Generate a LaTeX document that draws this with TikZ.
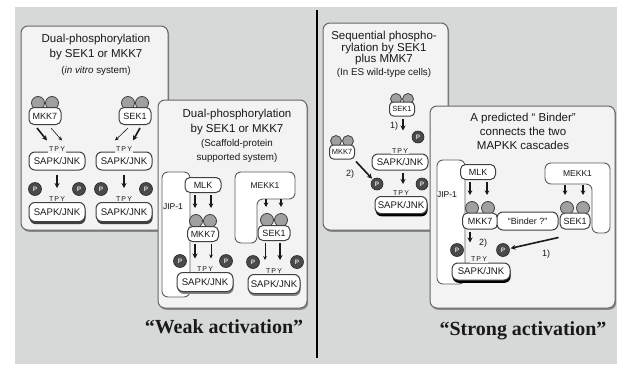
\documentclass[tikz,border=0pt]{standalone}
\usepackage{fontspec}
\setmainfont{Liberation Sans}
\newfontfamily\serifbold{Liberation Serif}
\usetikzlibrary{arrows.meta,calc,shadows}
\definecolor{bggray}{HTML}{D7D9D9}
\definecolor{panelfill}{HTML}{F3F3F3}
\definecolor{panelline}{HTML}{666666}
\definecolor{panelshadow}{HTML}{8A8A8A}
\definecolor{nodeline}{HTML}{404040}
\definecolor{earfill}{HTML}{A0A0A0}
\definecolor{pfill}{HTML}{4A4A4A}
\tikzset{
 panel/.style={rounded corners=7pt, fill=panelfill, draw=panelline, line width=1pt,
   drop shadow={shadow xshift=1.2pt, shadow yshift=-1.8pt, fill=panelshadow, opacity=1}},
 ttl/.style={font=\fontsize{11.5}{13}\selectfont, inner sep=0pt, anchor=base},
 ttls/.style={font=\fontsize{9.8}{11}\selectfont, inner sep=0pt, anchor=base},
 kinbox/.style={draw=nodeline, fill=white, rounded corners=5pt, line width=1pt,
   minimum width=32pt, minimum height=17pt, inner sep=1pt, font=\fontsize{9}{9}\selectfont},
 kinsmall/.style={minimum width=25pt, minimum height=14pt, rounded corners=4pt, font=\fontsize{7.5}{8}\selectfont},
 ear/.style={circle, draw=nodeline, fill=earfill, line width=0.8pt, inner sep=0pt},
 sapk/.style={draw=nodeline, fill=white, rounded corners=6pt, line width=1pt,
   minimum width=56pt, minimum height=18pt, inner sep=1pt, font=\fontsize{9.6}{10}\selectfont},
 actdark/.style={drop shadow={shadow xshift=0.6pt, shadow yshift=-2.6pt, fill=black!75, opacity=1}},
 actmid/.style={drop shadow={shadow xshift=0.6pt, shadow yshift=-2.4pt, fill=black!50, opacity=1}},
 actblack/.style={drop shadow={shadow xshift=0.6pt, shadow yshift=-2.8pt, fill=black, opacity=1}},
 pcirc/.style={circle, fill=pfill, draw=black!85, line width=0.6pt, minimum size=13pt,
   inner sep=0pt, font=\fontsize{6.5}{6.5}\selectfont\bfseries, text=black!12},
 tpy/.style={fill=panelfill, inner sep=0.6pt, font=\fontsize{7}{7}\selectfont},
 boldarr/.style={line width=1.6pt, -{Stealth[length=5pt,width=5pt]}},
 medarr/.style={line width=1.1pt, -{Stealth[length=4.5pt,width=4.5pt]}},
 thinarr/.style={line width=0.6pt, -{Stealth[length=4pt,width=3.6pt]}},
 scaf/.style={draw=nodeline!85, fill=white, rounded corners=6pt, line width=0.9pt},
 lbl/.style={inner sep=0pt, font=\fontsize{8.5}{9}\selectfont},
 numlbl/.style={inner sep=0pt, font=\fontsize{9}{9}\selectfont},
 big/.style={font=\serifbold\bfseries\fontsize{20}{22}\selectfont, inner sep=0pt}
}
% name, x, y, label, ear dx, ear dy, ear size, extra box style
\newcommand{\kinase}[8]{%
  \node[ear, minimum size=#7] (#1e1) at ($(#2,#3)+(-#5,-#6)$) {};
  \node[ear, minimum size=#7] (#1e2) at ($(#2,#3)+(#5,-#6)$) {};
  \node[kinbox, #8] (#1) at (#2,#3) {#4};}
\begin{document}
\begin{tikzpicture}[x=1pt,y=-1pt, color=black!90]
\useasboundingbox (0,0) rectangle (617,364);
\fill[bggray] (15,7) rectangle (617,364);
\draw[line width=1.8pt, black] (317,10) -- (317,358);

% ---------- Box 1: in vitro ----------
\path[panel] (21,26) rectangle (168,230);
\node[ttl] (b1t1) at (96,42) {Dual-phosphorylation};
\node[ttl] (b1t2) at (96,57) {by SEK1 or MKK7};
\node[ttls] (b1t3) at (96,73) {(\textit{in vitro} system)};
\kinase{b1m}{45}{116}{MKK7}{7}{13}{13pt}{}
\kinase{b1s}{135}{116}{SEK1}{7}{13}{13pt}{}
\node[sapk] (b1u1) at (57,161) {SAPK/JNK};
\node[sapk] (b1u2) at (124,161) {SAPK/JNK};
\node[tpy] (b1y1) at ([yshift=2pt]b1u1.north) {T\,P\,Y};
\node[tpy] (b1y2) at ([yshift=2pt]b1u2.north) {T\,P\,Y};
\draw[boldarr] ([xshift=-8pt,yshift=-3pt]b1m.south) -- ([xshift=-10pt,yshift=11pt]b1u1.north);
\draw[thinarr] ([xshift=6pt,yshift=-3pt]b1m.south) -- ([xshift=5pt,yshift=11pt]b1u1.north);
\draw[thinarr] ([xshift=-7pt,yshift=-3pt]b1s.south) -- ([xshift=-9pt,yshift=11pt]b1u2.north);
\draw[boldarr] ([xshift=5pt,yshift=-3pt]b1s.south) -- ([xshift=9pt,yshift=11pt]b1u2.north);
\node[sapk, actdark, minimum height=19pt] (b1a1) at (57,212) {SAPK/JNK};
\node[sapk, actdark, minimum height=19pt] (b1a2) at (124,212) {SAPK/JNK};
\node[tpy] (b1y3) at ([yshift=3pt]b1a1.north) {T\,P\,Y};
\node[tpy] (b1y4) at ([yshift=3pt]b1a2.north) {T\,P\,Y};
\node[pcirc] (b1p1) at (35,189) {P};
\node[pcirc] (b1p2) at (79,189) {P};
\node[pcirc] (b1p3) at (101,189) {P};
\node[pcirc] (b1p4) at (146,189) {P};
\draw[boldarr] ([yshift=-4pt]b1u1.south) -- ([yshift=14pt]b1a1.north);
\draw[boldarr] ([yshift=-4pt]b1u2.south) -- ([yshift=14pt]b1a2.north);

% ---------- Box 2: scaffold ----------
\path[panel] (158,100) rectangle (307,308);
\node[ttl] (b2t1) at (237,117) {Dual-phosphorylation};
\node[ttl] (b2t2) at (237,132) {by SEK1 or MKK7};
\node[ttls] (b2t3) at (237,146.5) {(Scaffold-protein};
\node[ttls] (b2t4) at (237,160.5) {supported system)};
\node[scaf, minimum width=28pt, minimum height=125pt] (b2jip) at (176,234.5) {};
\draw[scaf] (235,172) -- (295,172) -- (295,199) -- (257,199) -- (257,243) -- (235,243) -- cycle;
\node[lbl, minimum width=60pt, minimum height=27pt] (b2mk) at (265,185.5) {MEKK1};
\node[lbl, fill=panelfill, inner sep=0.5pt] (b2jl) at (173,207) {JIP-1};
\node[kinbox, minimum width=36pt, minimum height=15pt] (b2mlk) at (203,185) {MLK};
\kinase{b2m}{203}{234}{MKK7}{7}{13}{13pt}{minimum width=31pt, minimum height=15pt}
\kinase{b2s}{274}{233}{SEK1}{7}{13}{13pt}{minimum width=32pt, minimum height=15pt}
\draw[medarr] ([xshift=-8pt,yshift=-2pt]b2mlk.south) -- ([xshift=-8pt,yshift=18pt]b2m.north);
\draw[medarr] ([xshift=8pt,yshift=-2pt]b2mlk.south) -- ([xshift=8pt,yshift=18pt]b2m.north);
\draw[medarr] ([xshift=1pt]b2mk.south) -- ([xshift=-8pt,yshift=18pt]b2s.north);
\draw[medarr] ([xshift=16pt]b2mk.south) -- ([xshift=7pt,yshift=18pt]b2s.north);
\node[sapk, actmid, minimum height=19pt] (b2a1) at (205,282) {SAPK/JNK};
\node[sapk, actmid, minimum width=52pt, minimum height=19pt] (b2a2) at (274,284) {SAPK/JNK};
\node[tpy] (b2y1) at ([yshift=3pt]b2a1.north) {T\,P\,Y};
\node[tpy] (b2y2) at ([yshift=3pt]b2a2.north) {T\,P\,Y};
\node[pcirc] (b2p1) at (180,261) {P};
\node[pcirc] (b2p2) at (226,261) {P};
\node[pcirc] (b2p3) at (253,262) {P};
\node[pcirc] (b2p4) at (297,262) {P};
\draw[boldarr] ([xshift=-8pt,yshift=-2pt]b2m.south) -- ([xshift=-10pt,yshift=13.5pt]b2a1.north);
\draw[thinarr] ([xshift=8pt,yshift=-2pt]b2m.south) -- ([xshift=6pt,yshift=13.5pt]b2a1.north);
\draw[thinarr] ([xshift=-9pt,yshift=-2pt]b2s.south) -- ([xshift=-9pt,yshift=14pt]b2a2.north);
\draw[boldarr] ([xshift=6pt,yshift=-2pt]b2s.south) -- ([xshift=6pt,yshift=14pt]b2a2.north);
\node[big] (weak) at (224,327) {“Weak activation”};

% ---------- Box 3: sequential ----------
\path[panel] (323,23) rectangle (448,230);
\node[ttl] (b3t1) at (384,39) {Sequential phospho-};
\node[ttl] (b3t2) at (384,51) {rylation by SEK1};
\node[ttl] (b3t3) at (384,62.5) {plus MMK7};
\node[ttls] (b3t4) at (384,75.5) {(In ES wild-type cells)};
\kinase{b3s}{402}{109}{SEK1}{6}{10}{11pt}{kinsmall}
\kinase{b3m}{342}{152}{MKK7}{6}{11}{11pt}{kinsmall}
\node[sapk, minimum height=16pt] (b3u) at (400,162) {SAPK/JNK};
\node[tpy] (b3y1) at ([yshift=2.5pt]b3u.north) {T\,P\,Y};
\node[pcirc, minimum size=12pt] (b3p0) at (418,137) {P};
\draw[boldarr] ([xshift=1pt,yshift=-2pt]b3s.south) -- ([xshift=3pt,yshift=23pt]b3u.north);
\node[numlbl] (b3n1) at (394,126) {1)};
\node[sapk, actblack, minimum width=52pt, minimum height=17pt] (b3a) at (401,205) {SAPK/JNK};
\node[tpy] (b3y2) at ([yshift=3pt]b3a.north) {T\,P\,Y};
\node[pcirc, minimum size=12pt] (b3p1) at (377,184) {P};
\node[pcirc, minimum size=12pt] (b3p2) at (422,184) {P};
\draw[boldarr, shorten >=1pt] ([xshift=1pt,yshift=-2pt]b3m.south east) -- (b3p1);
\node[numlbl] (b3n2) at (350,174) {2)};
\draw[boldarr] ([xshift=3pt,yshift=-2pt]b3u.south) -- ([xshift=2pt,yshift=12pt]b3a.north);

% ---------- Box 4: binder ----------
\path[panel] (430,106) rectangle (615,308);
\node[ttl] (b4t1) at (523,121) {A predicted “ Binder”};
\node[ttl] (b4t2) at (523,135) {connects the two};
\node[ttl] (b4t3) at (523,149) {MAPKK cascades};
\node[scaf, minimum width=28pt, minimum height=124pt] (b4jip) at (451,222) {};
\draw[scaf] (545,163) -- (610,163) -- (610,233) -- (592,233) -- (592,184) -- (545,184) -- cycle;
\node[lbl, minimum width=65pt, minimum height=21pt] (b4mk) at (577.5,173.5) {MEKK1};
\node[lbl, fill=panelfill, inner sep=0.5pt] (b4jl) at (447,195) {JIP-1};
\node[kinbox, minimum width=35pt, minimum height=15pt] (b4mlk) at (478,172) {MLK};
\kinase{b4m}{480}{221}{MKK7}{8}{13}{13pt}{minimum width=35pt, minimum height=16pt}
\kinase{b4s}{575}{221}{SEK1}{8}{13}{13pt}{minimum width=30pt, minimum height=16pt}
\node[kinbox, minimum width=61pt, minimum height=18pt, rounded corners=6pt] (b4b) at (527.5,221) {“Binder ?”};
\draw[medarr] ([xshift=-8pt,yshift=-2pt]b4mlk.south) -- ([xshift=-10pt,yshift=17.5pt]b4m.north);
\draw[medarr] ([xshift=9pt,yshift=-2pt]b4mlk.south) -- ([xshift=7pt,yshift=17.5pt]b4m.north);
\draw[medarr] ([xshift=-12.5pt,yshift=-1pt]b4mk.south) -- ([xshift=-10pt,yshift=17.5pt]b4s.north);
\draw[medarr] ([xshift=5.5pt,yshift=-1pt]b4mk.south) -- ([xshift=8pt,yshift=17.5pt]b4s.north);
\node[sapk, actblack, minimum width=58pt, minimum height=17pt] (b4a) at (481,271.5) {SAPK/JNK};
\node[tpy] (b4y) at ([xshift=-2pt,yshift=3pt]b4a.north) {T\,P\,Y};
\node[pcirc] (b4p1) at (457,250) {P};
\node[pcirc] (b4p2) at (503,250) {P};
\draw[boldarr] ([xshift=-10pt,yshift=-2pt]b4m.south) -- ([xshift=-11pt,yshift=20pt]b4a.north);
\node[numlbl] (b4n2) at (483,243) {2)};
\draw[boldarr, shorten >=1pt] ([xshift=-1pt,yshift=-8pt]b4s.south west) -- (b4p2);
\node[numlbl] (b4n1) at (546,254) {1)};
\node[big] (strong) at (523,331) {“Strong activation”};
\end{tikzpicture}
\end{document}
